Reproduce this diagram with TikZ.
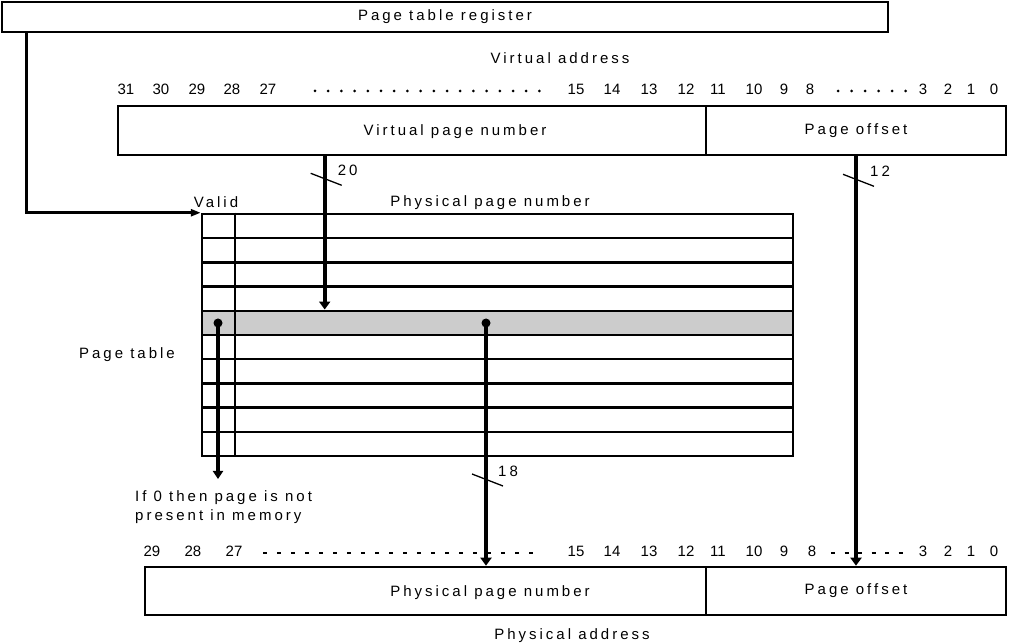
\documentclass[tikz,border=0pt]{standalone}
\usepackage{fontspec}
\setmainfont{Liberation Sans}
\usepackage{tikz}
\usetikzlibrary{arrows.meta}
\usetikzlibrary{positioning}
\usetikzlibrary{calc}
\newcommand\lbl{\fontsize{15pt}{19pt}\selectfont\addfontfeature{LetterSpace=20}}
\newcommand\bits{\fontsize{15pt}{17pt}\selectfont}
\tikzstyle{field}=[draw,line width=2.6pt,minimum height=49pt,inner sep=0pt,font=\lbl]
\tikzstyle{pte}=[draw,line width=2.5pt,minimum width=591pt,minimum height=24.2pt,inner sep=0pt]
\tikzstyle{bus}=[line width=4pt,-{Triangle[length=8pt,width=11pt]}]
\tikzstyle{tick}=[line width=1.3pt]

\begin{document}
\begin{tikzpicture}[x=1pt,y=-1pt]
\tikzstyle{bitno}=[font=\bits,inner sep=0pt]
\tikzstyle{txt}=[font=\lbl,inner sep=0pt,yshift=-1.5pt]
\tikzstyle{dot}=[fill,circle,inner sep=0pt,minimum size=9pt]
\useasboundingbox (0,0) rectangle (1013,644);

% register and virtual address
\node [field,minimum width=886pt,minimum height=30pt] (ptr) at (445,17) {Page table register};
\node [txt] (va) at (560,57) {Virtual address};
\node [field,minimum width=588pt] (vpn) at (412,130.5) {};
\node [field,minimum width=300pt] (voff) at (856,130.5) {Page offset};
\node [txt] (vpnlbl) at (vpn) [xshift=43pt] {Virtual page number};

% physical address
\node [field,minimum width=561pt,minimum height=48pt] (ppn) at (425.5,591) {};
\node [field,minimum width=300pt,minimum height=48pt] (poff) at (856,591) {Page offset};
\node [txt] (ppnlbl) at (ppn) [xshift=64.5pt] {Physical page number};
\node [txt] (pa) at (572,634.5) {Physical address};

% bit numbers
\foreach \n/\x in {31/126,30/161,29/197,28/232,27/268,15/576,14/612,13/649,12/686,11/718,10/754,9/784,8/810,3/923,2/948,1/971,0/994}
  \node [bitno] (t\n) at (\x,89) {\n};
\foreach \n/\x in {29/152,28/193,27/234,15/576,14/612,13/649,12/686,11/718,10/754,9/784,8/812,3/923,2/948,1/971,0/994}
  \node [bitno] (b\n) at (\x,551) {\n};
\foreach \k in {0,...,17} \fill ({315+13.2*\k},91) circle[radius=1.5pt];
\foreach \k in {0,...,5} \fill ({838+13.5*\k},91) circle[radius=1.5pt];
\foreach \k in {0,...,19} \draw [tick] ({263+14*\k},553) -- ++(4,0);
\foreach \k in {0,...,5} \draw [tick] ({831+13.5*\k},553) -- ++(4,0);

% page table
\foreach \i in {1,...,10} {
  \pgfmathtruncatemacro\shade{\i==5 ? 20 : 0}
  \node [pte,fill=black!\shade] (pte\i) at (497.5,{214+24.2*(\i-0.5)}) {};
}
\draw [line width=2.5pt] ([xshift=34pt]pte1.north west) -- ([xshift=34pt]pte10.south west);
\node [txt] (validlbl) at (216,201) {Valid};
\node [txt] (pfnlbl) at (490,201) {Physical page number};
\node [txt] (ptlbl) at (127,353) {Page table};
\node [txt,align=left,anchor=north west] (note) at (135,489) {If 0 then page is not\\present in memory};

\draw [line width=3pt,-{Triangle[length=10pt,width=7pt]}] ([xshift=26pt]ptr.south west) |- (pte1.north west);

\node [dot] (vbit) at (218,323) {};
\node [dot] (pfn) at (486,323) {};
\draw [line width=3.5pt,-{Triangle[length=8pt,width=10pt]}] (vbit.center) -- ([yshift=11.5pt]vbit |- note.north);

% buses
\draw [bus] ([xshift=208pt]vpn.south west) coordinate (a20) -- (a20 |- pte5.north);
\draw [tick] ($(a20)+(-14,17)$) -- ++(31,12);
\node [txt] (n20) at ($(a20)+(23,13)$) {20};

\draw [bus] (voff.south) coordinate (a12) -- (poff.north);
\draw [tick] ($(a12)+(-13,18)$) -- ++(31,12);
\node [txt] (n12) at ($(a12)+(24,13)$) {12};

\draw [bus] (pfn.center) -- (pfn |- ppn.north);
\draw [tick] ($(pfn)+(-14,151)$) -- ++(31,12);
\node [txt] (n18) at ($(pfn)+(22,147)$) {18};
\end{tikzpicture}
\end{document}
